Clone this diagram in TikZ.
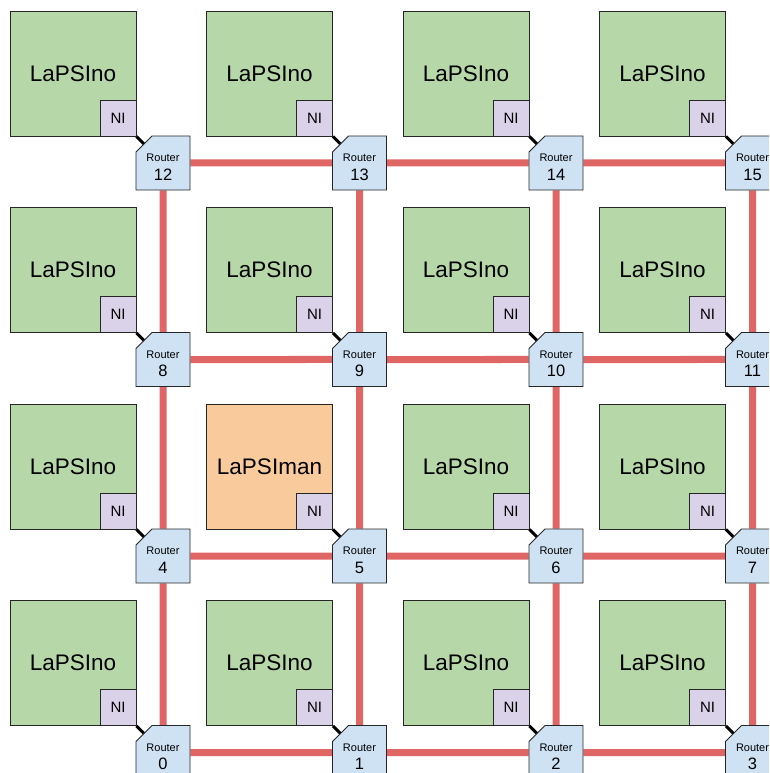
\documentclass[tikz,border=0pt]{standalone}
\usepackage{fontspec}
\setmainfont{Liberation Sans}
\usetikzlibrary{shapes.misc,backgrounds}
\definecolor{tilegreen}{HTML}{B6D7A8}
\definecolor{tileorange}{HTML}{F9CB9C}
\definecolor{nipurple}{HTML}{D9D2E9}
\definecolor{routerblue}{HTML}{CFE2F3}
\definecolor{linkred}{HTML}{E06666}
\begin{document}
\begin{tikzpicture}[x=1pt,y=-1pt,
  tile/.style={draw=black!85, line width=0.8pt, fill=tilegreen, minimum width=126pt, minimum height=125pt, inner sep=0pt, font=\fontsize{22.5}{27}\selectfont},
  mantile/.style={tile, fill=tileorange},
  nibox/.style={draw=black!85, line width=0.8pt, fill=nipurple, minimum size=36pt, inner sep=0pt, anchor=south east, font=\fontsize{15}{18}\selectfont},
  router/.style={chamfered rectangle, chamfered rectangle corners=north west, chamfered rectangle xsep=8pt, chamfered rectangle ysep=8pt, draw=black!85, line width=0.8pt, fill=routerblue, minimum width=54pt, minimum height=54pt, inner sep=0pt, align=center, font=\fontsize{11}{18.5}\selectfont},
  numfont/.style={},
  link/.style={draw=linkred, line width=7pt},
  niwire/.style={draw=black, line width=3pt}]
\useasboundingbox (0,0) rectangle (769,773);
\clip (0,0) rectangle (769,773);
\foreach \r in {0,...,3}{
  \foreach \c in {0,...,3}{
    \pgfmathtruncatemacro{\n}{(3-\r)*4+\c}
    \def\tstyle{tile}\def\ttext{LaPSIno}
    \ifnum\n=5 \def\tstyle{mantile}\def\ttext{LaPSIman}\fi
    \node[\tstyle] (t\n) at (73+196.5*\c, 73.5+196.5*\r) {\ttext};
    \node[nibox] (ni\n) at (t\n.south east) {NI};
    \node[router] (r\n) at (163+196.5*\c, 163+196.5*\r)
      {\rule{0pt}{16pt}Router\\\fontsize{16.5}{18.5}\selectfont \n};
  }
}
\begin{scope}[on background layer]
  \foreach \r in {0,...,3}{
    \foreach \c in {0,...,2}{
      \pgfmathtruncatemacro{\a}{\r*4+\c}
      \pgfmathtruncatemacro{\b}{\a+1}
      \draw[link] (r\a) -- (r\b);
    }
  }
  \foreach \c in {0,...,3}{
    \foreach \r in {0,...,2}{
      \pgfmathtruncatemacro{\a}{\r*4+\c}
      \pgfmathtruncatemacro{\b}{\a+4}
      \draw[link] (r\a) -- (r\b);
    }
  }
  \foreach \n in {0,...,15}{
    \draw[niwire] (ni\n.south east) -- (r\n.center);
  }
\end{scope}
\end{tikzpicture}
\end{document}
